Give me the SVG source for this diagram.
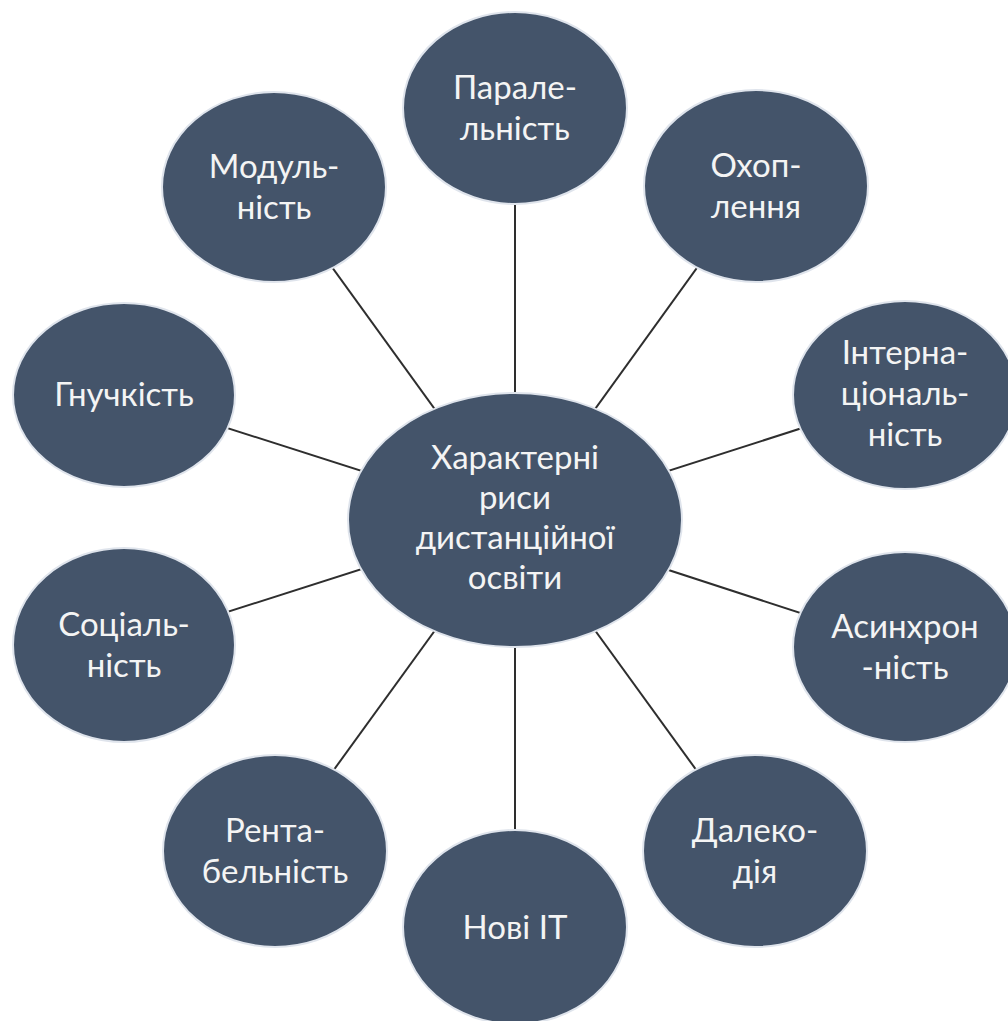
<svg xmlns="http://www.w3.org/2000/svg" width="1008" height="1021" viewBox="0 0 1008 1021">
<style>
.c{fill:#44546a;stroke:#dfe4ec;stroke-width:2}
.t{font-family:Lato,"Liberation Sans",sans-serif;font-size:33px;fill:#f4f4f4;text-anchor:middle}
.l{stroke:#2e2e2e;stroke-width:2;fill:none}
</style>
<rect width="1008" height="1021" fill="#ffffff"/>
<g id="connectors">
<line class="l" x1="515" y1="520" x2="515" y2="108"/>
<line class="l" x1="515" y1="520" x2="756" y2="186"/>
<line class="l" x1="515" y1="520" x2="905" y2="395"/>
<line class="l" x1="515" y1="520" x2="905" y2="647"/>
<line class="l" x1="515" y1="520" x2="755" y2="851"/>
<line class="l" x1="515" y1="520" x2="515" y2="927"/>
<line class="l" x1="515" y1="520" x2="275" y2="851"/>
<line class="l" x1="515" y1="520" x2="124" y2="645"/>
<line class="l" x1="515" y1="520" x2="124" y2="395"/>
<line class="l" x1="515" y1="520" x2="274" y2="187"/>
</g>
<g id="center">
<ellipse class="c" cx="515" cy="520" rx="167" ry="127"/>
<text class="t" x="515" y="469">Характерні</text>
<text class="t" x="515" y="509">риси</text>
<text class="t" x="515" y="549">дистанційної</text>
<text class="t" x="515" y="589">освіти</text>
</g>
<g id="paralelnist">
<ellipse class="c" cx="515" cy="108" rx="112" ry="96"/>
<text class="t" x="515" y="98.5">Парале-</text>
<text class="t" x="515" y="139.5">льність</text>
</g>
<g id="okhoplennia">
<ellipse class="c" cx="756" cy="186" rx="112" ry="96"/>
<text class="t" x="756" y="177">Охоп-</text>
<text class="t" x="756" y="218">лення</text>
</g>
<g id="internatsionalnist">
<ellipse class="c" cx="905" cy="395" rx="112" ry="94"/>
<text class="t" x="905" y="364">Інтерна-</text>
<text class="t" x="905" y="405">ціональ-</text>
<text class="t" x="905" y="446">ність</text>
</g>
<g id="asynkhronnist">
<ellipse class="c" cx="905" cy="647" rx="112" ry="95"/>
<text class="t" x="905" y="637.5">Асинхрон</text>
<text class="t" x="905" y="678.5">-ність</text>
</g>
<g id="dalekodiia">
<ellipse class="c" cx="755" cy="851" rx="112" ry="96"/>
<text class="t" x="755" y="841.5">Далеко-</text>
<text class="t" x="755" y="882.5">дія</text>
</g>
<g id="novi-it">
<ellipse class="c" cx="515" cy="927" rx="112" ry="97"/>
<text class="t" x="515" y="939">Нові IT</text>
</g>
<g id="rentabelnist">
<ellipse class="c" cx="275" cy="851" rx="112" ry="96"/>
<text class="t" x="275" y="841.5">Рента-</text>
<text class="t" x="275" y="882.5">бельність</text>
</g>
<g id="sotsialnist">
<ellipse class="c" cx="124" cy="645" rx="111" ry="97"/>
<text class="t" x="124" y="635.5">Соціаль-</text>
<text class="t" x="124" y="676.5">ність</text>
</g>
<g id="hnuchkist">
<ellipse class="c" cx="124" cy="395" rx="111" ry="92"/>
<text class="t" x="124" y="406">Гнучкість</text>
</g>
<g id="modulnist">
<ellipse class="c" cx="274" cy="187" rx="112" ry="95"/>
<text class="t" x="274" y="177.5">Модуль-</text>
<text class="t" x="274" y="218.5">ність</text>
</g>
</svg>
